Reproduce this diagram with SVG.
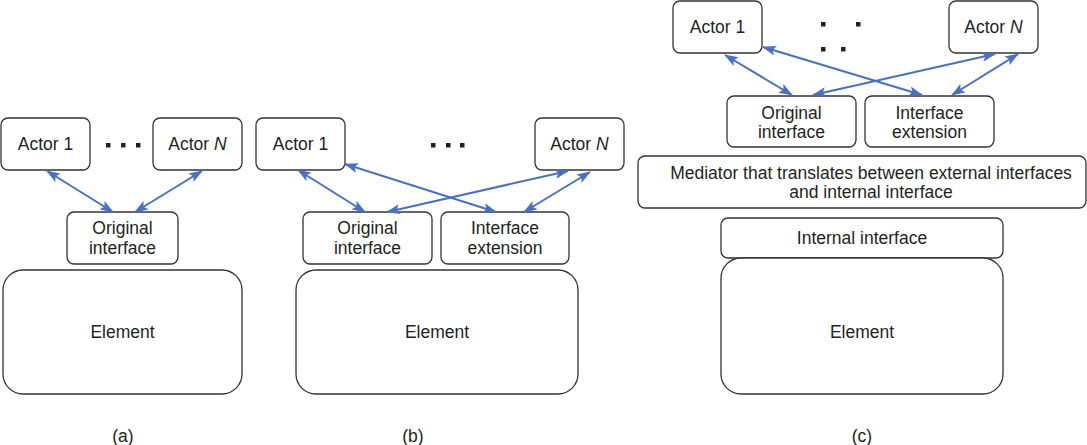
<svg xmlns="http://www.w3.org/2000/svg" width="1087" height="445" viewBox="0 0 1087 445">
<defs>
<marker id="ah" viewBox="0 0 14 10" refX="13" refY="5" markerWidth="14" markerHeight="10" markerUnits="userSpaceOnUse" orient="auto-start-reverse">
<path d="M0,0 L14,5 L0,10 L3,5 Z" fill="#4a70c2"/>
</marker>
</defs>
<style>
.box{fill:#fff;stroke:#333;stroke-width:1.3}
.t{font-family:"Liberation Sans",Arial,sans-serif;font-size:17.5px;fill:#231f20;text-anchor:middle}
.c{stroke:#4a70c2;stroke-width:2;fill:none;marker-start:url(#ah);marker-end:url(#ah)}
.dot{fill:#231f20}
</style>
<rect width="1087" height="445" fill="#fff"/>

<!-- Panel a -->
<g id="a-actor1"><rect class="box" x="1" y="118" width="89" height="52" rx="7"/><text class="t" x="45.5" y="150">Actor 1</text></g>
<g id="a-dots"><rect class="dot" x="106" y="143" width="4.5" height="4.5"/><rect class="dot" x="121" y="143" width="4.5" height="4.5"/><rect class="dot" x="136" y="143" width="4.5" height="4.5"/></g>
<g id="a-actorN"><rect class="box" x="153" y="118" width="89" height="52" rx="7"/><text class="t" x="197.5" y="150">Actor <tspan font-style="italic">N</tspan></text></g>
<g id="a-orig"><rect class="box" x="67" y="212" width="111" height="52" rx="7"/><text class="t" x="122.5" y="234">Original</text><text class="t" x="122.5" y="253.6">interface</text></g>
<g id="a-element"><rect class="box" x="3" y="270" width="239" height="124" rx="20"/><text class="t" x="122.5" y="338">Element</text></g>
<text class="t" x="123" y="442">(a)</text>

<!-- Panel b -->
<g id="b-actor1"><rect class="box" x="256" y="118" width="89" height="52" rx="7"/><text class="t" x="300.5" y="150">Actor 1</text></g>
<g id="b-dots"><rect class="dot" x="431" y="143" width="4.5" height="4.5"/><rect class="dot" x="446" y="143" width="4.5" height="4.5"/><rect class="dot" x="460" y="143" width="4.5" height="4.5"/></g>
<g id="b-actorN"><rect class="box" x="535" y="118" width="89" height="52" rx="7"/><text class="t" x="579.5" y="150">Actor <tspan font-style="italic">N</tspan></text></g>
<g id="b-orig"><rect class="box" x="303" y="212" width="129" height="52" rx="7"/><text class="t" x="367.5" y="234">Original</text><text class="t" x="367.5" y="253.6">interface</text></g>
<g id="b-ext"><rect class="box" x="441" y="212" width="128" height="52" rx="7"/><text class="t" x="505" y="234">Interface</text><text class="t" x="505" y="253.6">extension</text></g>
<g id="b-element"><rect class="box" x="296" y="270" width="282" height="124" rx="20"/><text class="t" x="437" y="338">Element</text></g>
<text class="t" x="413" y="442">(b)</text>

<!-- Panel c -->
<g id="c-actor1"><rect class="box" x="673" y="1" width="89" height="52" rx="7"/><text class="t" x="717.5" y="33">Actor 1</text></g>
<g id="c-dots"><rect class="dot" x="821" y="22" width="4.5" height="4.5"/><rect class="dot" x="856" y="22" width="4.5" height="4.5"/><rect class="dot" x="821" y="47" width="4.5" height="4.5"/><rect class="dot" x="841" y="47" width="4.5" height="4.5"/></g>
<g id="c-actorN"><rect class="box" x="949" y="1" width="89" height="52" rx="7"/><text class="t" x="993.5" y="33">Actor <tspan font-style="italic">N</tspan></text></g>
<g id="c-orig"><rect class="box" x="727" y="96" width="129" height="51" rx="7"/><text class="t" x="791.5" y="118.5">Original</text><text class="t" x="791.5" y="138.1">interface</text></g>
<g id="c-ext"><rect class="box" x="865" y="96" width="129" height="51" rx="7"/><text class="t" x="929.5" y="118.5">Interface</text><text class="t" x="929.5" y="138.1">extension</text></g>
<g id="c-mediator"><rect class="box" x="638" y="156" width="448" height="52" rx="7"/><text class="t" x="871" y="178.5">Mediator that translates between external interfaces</text><text class="t" x="871" y="198.1">and internal interface</text></g>
<g id="c-internal"><rect class="box" x="721" y="218" width="282" height="40" rx="7"/><text class="t" x="862" y="244">Internal interface</text></g>
<g id="c-element"><rect class="box" x="721" y="258" width="282" height="136" rx="20"/><text class="t" x="862" y="338">Element</text></g>
<text class="t" x="862" y="442">(c)</text>

<g id="connectors">
<path class="c" d="M47,171 L113,212"/>
<path class="c" d="M202,171 L135,212"/>
<path class="c" d="M298,170 L365,212"/>
<path class="c" d="M345,164 L496,212"/>
<path class="c" d="M568,171 L387,212"/>
<path class="c" d="M590,172 L524,212"/>
<path class="c" d="M725,55 L792,95"/>
<path class="c" d="M763,47 L922,95"/>
<path class="c" d="M995,54 L813,95"/>
<path class="c" d="M1018,54 L952,95"/>
</g>
</svg>
